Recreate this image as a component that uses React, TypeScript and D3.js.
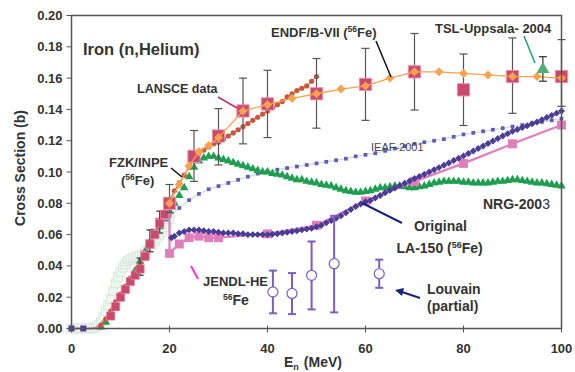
import { useRef, useEffect } from "react";
import * as d3 from "d3";

const W = 575;
const H = 372;

// ---- data (E in MeV, cross section in b) ----
const xTicks = [0, 20, 40, 60, 80, 100];
const yTicks = [0, 0.02, 0.04, 0.06, 0.08, 0.1, 0.12, 0.14, 0.16, 0.18, 0.2];

const paleE = [0, 1, 2, 3, 4, 4.5, 5, 5.5, 6, 6.5, 7, 7.5, 8, 8.5, 9, 9.5, 10, 10.5, 11, 11.5, 12, 12.5, 13, 13.5, 14, 14.5, 15, 15.5, 16, 16.5, 17, 17.5, 18, 18.5, 19, 19.5, 20];
const paleV = [0, 0, 0, 0, 0, 0, 0.001, 0.002, 0.004, 0.007, 0.011, 0.015, 0.019, 0.024, 0.029, 0.033, 0.036, 0.039, 0.041, 0.043, 0.044, 0.045, 0.0455, 0.046, 0.0465, 0.047, 0.048, 0.05, 0.052, 0.054, 0.056, 0.058, 0.06, 0.062, 0.065, 0.067, 0.07];

const ieafE = [20, 22, 24, 26, 28, 30, 32, 34, 36, 38, 40, 42, 44, 46, 48, 50, 52, 54, 56, 58, 60, 62, 64, 66, 68, 70, 72, 74, 76, 78, 80, 82, 84, 86, 88, 90, 92, 94, 96, 98, 100];
const ieafV = [0.072, 0.077, 0.082, 0.086, 0.089, 0.091, 0.093, 0.095, 0.097, 0.099, 0.1005, 0.1015, 0.1025, 0.1035, 0.1045, 0.1055, 0.1065, 0.1075, 0.1085, 0.11, 0.111, 0.112, 0.1135, 0.115, 0.1165, 0.118, 0.119, 0.12, 0.121, 0.1225, 0.124, 0.125, 0.126, 0.127, 0.128, 0.129, 0.13, 0.131, 0.132, 0.133, 0.134];

const fzkStart = 6; // 1 MeV steps
const fzkV = [0.001, 0.004, 0.008, 0.013, 0.019, 0.025, 0.031, 0.037, 0.043, 0.049, 0.055, 0.06, 0.065, 0.07, 0.075, 0.08, 0.085, 0.09, 0.097, 0.103, 0.107, 0.109, 0.11, 0.11, 0.109, 0.108, 0.107, 0.106, 0.105, 0.104, 0.103, 0.102, 0.101, 0.1, 0.1, 0.099, 0.0985, 0.098, 0.097, 0.096, 0.095, 0.095, 0.094, 0.0935, 0.093, 0.092, 0.0915, 0.091, 0.09, 0.089, 0.088, 0.0875, 0.087, 0.087, 0.0875, 0.088, 0.089, 0.09, 0.09, 0.0905, 0.091, 0.091, 0.0905, 0.09, 0.09, 0.0905, 0.091, 0.092, 0.093, 0.0935, 0.094, 0.094, 0.094, 0.094, 0.0935, 0.0935, 0.093, 0.093, 0.093, 0.093, 0.0935, 0.094, 0.094, 0.0945, 0.095, 0.095, 0.0945, 0.094, 0.0935, 0.093, 0.093, 0.0925, 0.092, 0.0915, 0.091];

const jendlLineE = [0, 2, 4, 5, 6, 7, 8, 9, 10, 11, 12, 13, 14, 15, 16, 17, 18, 19, 20, 20, 22, 24, 26, 28, 30, 40, 50, 60, 70, 80, 90, 100];
const jendlLineV = [0, 0, 0, 0.0005, 0.003, 0.007, 0.012, 0.017, 0.022, 0.027, 0.032, 0.036, 0.041, 0.047, 0.054, 0.061, 0.068, 0.072, 0.074, 0.048, 0.054, 0.058, 0.059, 0.058, 0.058, 0.0605, 0.066, 0.0815, 0.094, 0.1055, 0.118, 0.13];
const jendlSqE = [15, 16, 17, 18, 19, 20, 22, 24, 26, 28, 30, 40, 50, 60, 70, 80, 90, 100];
const jendlSqV = [0.047, 0.054, 0.061, 0.068, 0.072, 0.048, 0.054, 0.058, 0.059, 0.058, 0.058, 0.0605, 0.066, 0.0815, 0.094, 0.1055, 0.118, 0.13];

const laLowE = [0, 2.4];
const laLowV = [0, 0];
const laStart = 21; // 1 MeV steps
const laV = [0.059, 0.061, 0.062, 0.063, 0.063, 0.063, 0.0625, 0.062, 0.062, 0.0615, 0.061, 0.061, 0.061, 0.0605, 0.0605, 0.06, 0.06, 0.06, 0.06, 0.06, 0.0602, 0.0605, 0.061, 0.0615, 0.062, 0.0625, 0.063, 0.0635, 0.064, 0.065, 0.066, 0.0675, 0.069, 0.0705, 0.072, 0.074, 0.076, 0.078, 0.0795, 0.081, 0.0818, 0.0834, 0.085, 0.0867, 0.0883, 0.0898, 0.0913, 0.0928, 0.0943, 0.0958, 0.0972, 0.0986, 0.1, 0.1014, 0.1028, 0.1043, 0.1058, 0.1073, 0.1088, 0.1103, 0.1118, 0.1134, 0.115, 0.1166, 0.1182, 0.1198, 0.1214, 0.123, 0.1245, 0.126, 0.1272, 0.1284, 0.1296, 0.1308, 0.132, 0.1334, 0.1348, 0.1362, 0.1376, 0.139];
const laFirst = [20.4, 0.058];

const endfStart = 6; // 1 MeV steps
const endfV = [0.002, 0.006, 0.011, 0.017, 0.022, 0.027, 0.032, 0.036, 0.041, 0.047, 0.054, 0.06, 0.067, 0.074, 0.082, 0.088, 0.093, 0.098, 0.103, 0.108, 0.112, 0.114, 0.116, 0.118, 0.119, 0.121, 0.123, 0.125, 0.127, 0.129, 0.131, 0.133, 0.135, 0.137, 0.139, 0.141, 0.143, 0.145, 0.148, 0.15, 0.152, 0.1535, 0.155, 0.158, 0.161];

const orangeE = [20, 22, 24, 26, 28, 30, 35, 40, 45, 50, 55, 60, 65, 70, 75, 80, 85, 90, 95, 100];
const orangeV = [0.08, 0.092, 0.104, 0.113, 0.117, 0.122, 0.139, 0.143, 0.147, 0.15, 0.153, 0.155, 0.16, 0.164, 0.164, 0.163, 0.162, 0.161, 0.161, 0.16];

const lansceLowE = [8, 9, 10, 11, 12, 13, 14, 15, 16, 17, 18, 19];
const lansceLowV = [0.008, 0.014, 0.02, 0.025, 0.03, 0.034, 0.038, 0.046, 0.054, 0.06, 0.067, 0.073];
const lansceLowBarE = [14, 16, 18];
const lansceLowBarLo = [0.034, 0.049, 0.061];
const lansceLowBarHi = [0.045, 0.063, 0.075];

const lansceE = [20, 25, 30, 35, 40, 50, 60, 70, 80, 90, 100];
const lansceV = [0.08, 0.11, 0.123, 0.139, 0.1435, 0.15, 0.156, 0.164, 0.1525, 0.161, 0.161];
const lansceLo = [0.074, 0.094, 0.1045, 0.118, 0.122, 0.128, 0.133, 0.1396, 0.1297, 0.1375, 0.142];
const lansceHi = [0.092, 0.1265, 0.1405, 0.16, 0.165, 0.1725, 0.179, 0.1885, 0.1754, 0.1857, 0.1846];

const tslE = [96.2];
const tslV = [0.1656];
const tslLo = [0.158];
const tslHi = [0.1737];

const louvainE = [41.1, 45, 49, 53.6, 62.8];
const louvainV = [0.0234, 0.0224, 0.034, 0.0414, 0.035];
const louvainLo = [0.0097, 0.0092, 0.0122, 0.0103, 0.026];
const louvainHi = [0.037, 0.0354, 0.0556, 0.072, 0.044];

const C = {
  text: "#333",
  axis: "#555",
  pale: "#edf6ef",
  paleStroke: "#cfe4d5",
  ieaf: "#6b55b5",
  ieafLine: "#c4e8dc",
  fzk: "#1f9e50",
  jendl: "#e07dbb",
  la: "#4a3b94",
  endf: "#c9553a",
  orange: "#fba24e",
  lansce: "#c94a6b",
  lansceStroke: "#e890b0",
  bar: "#555",
  tsl: "#4fae74",
  louvain: "#7d5cbf",
};

const App = () => {
  const svgRef = useRef(null);

  useEffect(() => {
    const svg = d3.select(svgRef.current);
    svg.selectAll("*").remove();

    const x = d3.scaleLinear().domain([0, 100]).range([71.5, 561.5]);
    const y = d3.scaleLinear().domain([0, 0.2]).range([328.5, 15.5]);
    const font = "Liberation Sans, Arial, sans-serif";

    const zip = (es, vs) => es.map((e, i) => [e, vs[i]]);
    const steps = (start, vs) => vs.map((v, i) => [start + i, v]);
    const line = d3.line().x((d) => x(d[0])).y((d) => y(d[1]));

    const sym = (g, pts, type, size, fill, stroke, sw, rot = 0) =>
      g
        .selectAll(null)
        .data(pts)
        .join("path")
        .attr("d", d3.symbol(type, size)())
        .attr("transform", (d) => `translate(${x(d[0])},${y(d[1])}) rotate(${rot})`)
        .attr("fill", fill)
        .attr("stroke", stroke)
        .attr("stroke-width", sw);

    const bars = (g, es, lo, hi, color, w, cap) => {
      es.forEach((e, i) => {
        const px = x(e);
        g.append("line").attr("x1", px).attr("x2", px).attr("y1", y(lo[i])).attr("y2", y(hi[i])).attr("stroke", color).attr("stroke-width", w);
        [lo[i], hi[i]].forEach((v) =>
          g.append("line").attr("x1", px - cap).attr("x2", px + cap).attr("y1", y(v)).attr("y2", y(v)).attr("stroke", color).attr("stroke-width", w)
        );
      });
    };

    const plot = svg.append("g");

    // pale low energy band
    sym(plot, zip(paleE, paleV), d3.symbolSquare, 81, C.pale, C.paleStroke, 0.8);

    // IEAF-2001
    plot.append("path").datum(zip(ieafE, ieafV)).attr("d", line).attr("fill", "none").attr("stroke", C.ieafLine).attr("stroke-width", 1.5);
    sym(plot, zip(ieafE, ieafV), d3.symbolSquare, 14, C.ieaf, "none", 0);

    // FZK/INPE
    sym(plot, steps(fzkStart, fzkV), d3.symbolTriangle, 32, C.fzk, "none", 0);

    // JENDL-HE
    plot.append("path").datum(zip(jendlLineE, jendlLineV)).attr("d", line).attr("fill", "none").attr("stroke", C.jendl).attr("stroke-width", 2.2);
    sym(plot, zip(jendlSqE, jendlSqV), d3.symbolSquare, 80, C.jendl, "none", 0);

    // Original LA-150
    sym(plot, zip(laLowE, laLowV), d3.symbolSquare, 36, C.la, "none", 0);
    sym(plot, [laFirst, ...steps(laStart, laV)], d3.symbolSquare, 24, C.la, "none", 0, 45);

    // ENDF/B-VII
    const endfPts = steps(endfStart, endfV);
    plot.append("path").datum(endfPts).attr("d", line).attr("fill", "none").attr("stroke", C.endf).attr("stroke-width", 1);
    plot.selectAll(null).data(endfPts).join("circle").attr("cx", (d) => x(d[0])).attr("cy", (d) => y(d[1])).attr("r", 2.6).attr("fill", C.endf);

    // LANSCE data
    bars(plot, lansceLowBarE, lansceLowBarLo, lansceLowBarHi, "#333", 1.2, 3.5);
    sym(plot, zip(lansceLowE, lansceLowV), d3.symbolSquare, 70, C.lansce, C.lansceStroke, 0.6);
    bars(plot, lansceE, lansceLo, lansceHi, C.bar, 1.2, 4);
    sym(plot, zip(lansceE, lansceV), d3.symbolSquare, 150, C.lansce, C.lansceStroke, 1);

    // orange evaluation with diamonds
    plot.append("path").datum(zip(orangeE, orangeV)).attr("d", line).attr("fill", "none").attr("stroke", C.orange).attr("stroke-width", 1.3);
    sym(plot, zip(orangeE, orangeV), d3.symbolSquare, 40, C.orange, "none", 0, 45);

    // TSL-Uppsala
    bars(plot, tslE, tslLo, tslHi, "#333", 1.2, 4);
    sym(plot, zip(tslE, tslV), d3.symbolTriangle, 70, C.tsl, "none", 0);

    // Louvain
    bars(plot, louvainE, louvainLo, louvainHi, C.louvain, 2, 4);
    plot.selectAll(null).data(zip(louvainE, louvainV)).join("circle").attr("cx", (d) => x(d[0])).attr("cy", (d) => y(d[1])).attr("r", 5).attr("fill", "white").attr("stroke", C.louvain).attr("stroke-width", 1.2);

    // frame and axes
    svg.append("rect").attr("x", x(0)).attr("y", y(0.2)).attr("width", x(100) - x(0)).attr("height", y(0) - y(0.2)).attr("fill", "none").attr("stroke", C.axis).attr("stroke-width", 1.5);

    const ax = svg.append("g").attr("font-family", font).attr("font-weight", "bold").attr("font-size", 13).attr("fill", C.text);
    yTicks.forEach((t) => {
      ax.append("line").attr("x1", x(0) - 5).attr("x2", x(0)).attr("y1", y(t)).attr("y2", y(t)).attr("stroke", C.axis).attr("stroke-width", 1);
      ax.append("text").attr("x", x(0) - 9).attr("y", y(t) + 4.5).attr("text-anchor", "end").text(t.toFixed(2));
    });
    xTicks.forEach((t) => {
      ax.append("line").attr("x1", x(t)).attr("x2", x(t)).attr("y1", y(0) - 3).attr("y2", y(0) + 4).attr("stroke", C.axis).attr("stroke-width", 1);
      ax.append("text").attr("x", x(t)).attr("y", 353).attr("text-anchor", "middle").text(t);
    });

    ax.append("text")
      .attr("transform", `translate(25,${(y(0) + y(0.2)) / 2 - 4}) rotate(-90)`)
      .attr("text-anchor", "middle")
      .attr("font-size", 14)
      .text("Cross Section (b)");

    const xt = ax.append("text").attr("x", 284).attr("y", 367).attr("font-size", 14);
    xt.append("tspan").text("E");
    xt.append("tspan").attr("font-size", 9).attr("dy", 3).text("n");
    xt.append("tspan").attr("dy", -3).attr("dx", 5).text("(MeV)");

    // annotations
    const lab = svg.append("g").attr("font-family", font).attr("font-weight", "bold").attr("fill", C.text).attr("font-size", 13);
    lab.append("text").attr("x", 83).attr("y", 55).attr("font-size", 16.5).text("Iron (n,Helium)");

    const withSup = (tx, ty, before, after, anchor = "start") => {
      const t = lab.append("text").attr("x", tx).attr("y", ty).attr("text-anchor", anchor);
      t.append("tspan").text(before + "(");
      t.append("tspan").attr("font-size", 8.5).attr("dy", -5).text("56");
      t.append("tspan").attr("dy", 5).text(after);
    };

    withSup(271, 37, "ENDF/B-VII ", "Fe)");
    lab.append("text").attr("x", 435).attr("y", 33).text("TSL-Uppsala- 2004");
    lab.append("text").attr("x", 137).attr("y", 93).attr("font-size", 12.5).text("LANSCE data");
    lab.append("text").attr("x", 109).attr("y", 167).text("FZK/INPE");
    withSup(121, 185, "", "Fe)");
    lab.append("text").attr("x", 371).attr("y", 151).attr("font-weight", "normal").attr("font-size", 11).attr("fill", "#444").text("IEAF-2001");
    const nrg = lab.append("text").attr("x", 483).attr("y", 208.5).attr("font-size", 14);
    nrg.append("tspan").text("NRG-200");
    nrg.append("tspan").attr("font-weight", "normal").text("3");
    lab.append("text").attr("x", 414).attr("y", 231).attr("font-size", 14).text("Original");
    const la = lab.append("text").attr("x", 396.5).attr("y", 253).attr("font-size", 14);
    la.append("tspan").text("LA-150 (");
    la.append("tspan").attr("font-size", 9).attr("dy", -5).text("56");
    la.append("tspan").attr("dy", 5).text("Fe)");
    lab.append("text").attr("x", 203).attr("y", 286).text("JENDL-HE");
    const jf = lab.append("text").attr("x", 223).attr("y", 305);
    jf.append("tspan").attr("font-size", 8.5).attr("dy", -5).text("56");
    jf.append("tspan").attr("dy", 5).attr("font-size", 14).text("Fe");
    lab.append("text").attr("x", 427).attr("y", 293.5).attr("font-size", 14).text("Louvain");
    lab.append("text").attr("x", 427).attr("y", 311).attr("font-size", 14).text("(partial)");

    // pointer lines
    const ptr = (x1, y1, x2, y2, color, w) =>
      svg.append("line").attr("x1", x1).attr("y1", y1).attr("x2", x2).attr("y2", y2).attr("stroke", color).attr("stroke-width", w);
    ptr(376, 41, 391, 77, "#111", 1.5);
    ptr(524, 36, 535, 63, "#1aa37a", 1.5);
    ptr(218, 97, 237, 108, "#c0306a", 1.5);
    ptr(171, 168, 182, 177, "#111", 1.5);
    ptr(362, 203, 402, 223, "#1a237e", 2);
    ptr(191, 266, 198, 279, "#ff33dd", 2);
    ptr(420, 298, 402, 292, "#1a237e", 2);
    svg.append("path").attr("d", "M395,290 L404,288 L402,296 Z").attr("fill", "#1a237e");
  }, []);

  return (
    <>
      <style>{`body{margin:0}`}</style>
      <svg ref={svgRef} width={W} height={H} style={{ display: "block" }} />
    </>
  );
};

export default App;
